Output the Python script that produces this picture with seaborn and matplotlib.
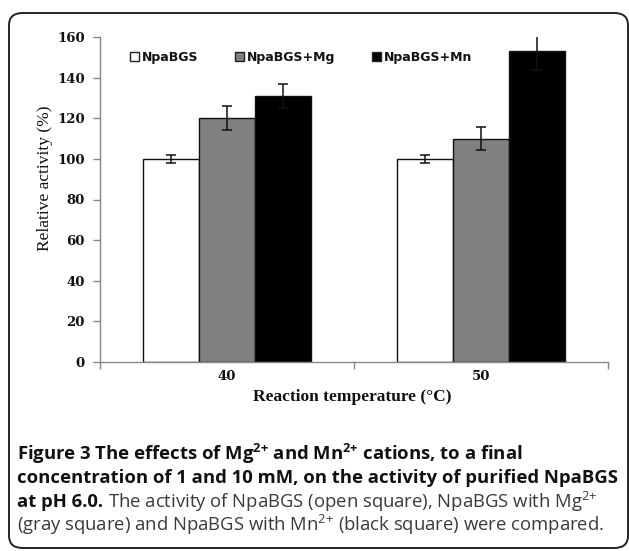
import matplotlib
matplotlib.use("Agg")
import matplotlib.pyplot as plt
import seaborn as sns
import pandas as pd
from matplotlib.patches import FancyBboxPatch
from matplotlib.ticker import FixedLocator, NullFormatter

# ---- data ----
temperatures = ["40", "50"]
groups = ["NpaBGS", "NpaBGS+Mg", "NpaBGS+Mn"]
act_npabgs = [100, 100]
act_mg = [120, 110]
act_mn = [131, 153]
err_npabgs = [2, 2]
err_mg = [6, 5.5]
err_mn = [6, 9]
colors = ["#ffffff", "#808080", "#000000"]

rows = []
for g, vals in zip(groups, [act_npabgs, act_mg, act_mn]):
    for t, v in zip(temperatures, vals):
        rows.append({"temp": t, "group": g, "activity": v})
df = pd.DataFrame(rows)
errs = {"NpaBGS": err_npabgs, "NpaBGS+Mg": err_mg, "NpaBGS+Mn": err_mn}

sns.set_style("white")
plt.rcParams["mathtext.fontset"] = "custom"
plt.rcParams["mathtext.rm"] = "Open Sans"
plt.rcParams["mathtext.bf"] = "Open Sans:bold"

W, H = 629, 551
fig = plt.figure(figsize=(W / 100, H / 100), dpi=100)

# outer rounded box
box = FancyBboxPatch((9 / W, 3 / H), (628 - 9) / W, (548 - 13) / H,
                     boxstyle="round,pad=0,rounding_size=0.022",
                     transform=fig.transFigure, facecolor="none",
                     edgecolor="#222222", linewidth=1.4, zorder=5)
fig.patches.append(box)

ax = fig.add_axes([100 / W, 1 - 362 / H, 508 / W, 325 / H])
sns.barplot(data=df, x="temp", y="activity", hue="group", order=temperatures,
            hue_order=groups, palette=colors, errorbar=None, width=0.665,
            edgecolor="#111111", linewidth=1.0, ax=ax, saturation=1)

# error bars at bar centers
for cont, g in zip(ax.containers, groups):
    xs = [p.get_x() + p.get_width() / 2 for p in cont.patches]
    ys = [p.get_height() for p in cont.patches]
    ax.errorbar(xs, ys, yerr=errs[g], fmt="none", ecolor="#111111",
                elinewidth=1.1, capsize=3.3, capthick=1.1, zorder=5)

ax.set_ylim(0, 160)
ax.set_xlim(-0.5, 1.5)
ax.set_yticks(range(0, 161, 20))
ax.set_yticklabels([str(v) for v in range(0, 161, 20)],
                   fontfamily="DejaVu Serif", fontweight="bold", fontsize=9.5,
                   color="#111111")
ax.set_xticks([0, 1])
ax.set_xticklabels(temperatures, fontfamily="DejaVu Serif",
                   fontweight="bold", fontsize=9.5, color="#111111")
ax.tick_params(axis="x", which="major", length=0, pad=6)
ax.xaxis.set_minor_locator(FixedLocator([-0.5, 0.5, 1.5]))
ax.xaxis.set_minor_formatter(NullFormatter())
ax.tick_params(axis="x", which="minor", length=5, color="#888888", width=1,
               bottom=True)
ax.tick_params(axis="y", length=5, color="#888888", width=1, pad=6, left=True)
for s in ["top", "right"]:
    ax.spines[s].set_visible(False)
for s in ["left", "bottom"]:
    ax.spines[s].set_color("#888888")
    ax.spines[s].set_linewidth(1.0)

ax.set_xlabel("Reaction temperature (\u00b0C)", fontfamily="Liberation Serif",
              fontweight="bold", fontsize=12.5, color="#111111")
ax.xaxis.set_label_coords((352 - 100) / 508, (362 - 389) / 325)
ax.set_ylabel("Relative activity (%)", fontfamily="Liberation Serif",
              fontsize=12.5, color="#111111")
ax.yaxis.set_label_coords((53 - 100) / 508, (362 - 178) / 325)

leg = ax.legend(loc="center left", bbox_to_anchor=((130 - 100) / 508, (362 - 57) / 325),
                ncol=3, frameon=False, borderpad=0, borderaxespad=0,
                handlelength=0.72, handleheight=0.72,
                handletextpad=0.25, columnspacing=2.9,
                prop={"family": "DejaVu Sans", "weight": "bold", "size": 9})
for t in leg.get_texts():
    t.set_color("#111111")
for h in leg.legend_handles:
    h.set_edgecolor("#222222")
    h.set_linewidth(1.0)

# caption
cap_x = 17 / W
fs = 13.3
lines_y = [454, 478, 502, 525]
bold_c = "#111111"
reg_c = "#3a3a3a"
fig.text(cap_x, 1 - lines_y[0] / H,
         r"Figure 3 The effects of Mg$^{\mathbf{2{+}}}$ and Mn$^{\mathbf{2{+}}}$ cations, to a final",
         fontfamily="Open Sans", fontweight="bold", fontsize=fs, va="center",
         color=bold_c)
fig.text(cap_x, 1 - lines_y[1] / H,
         "concentration of 1 and 10 mM, on the activity of purified NpaBGS",
         fontfamily="Open Sans", fontweight="bold", fontsize=fs, va="center",
         color=bold_c)
t1 = fig.text(cap_x, 1 - lines_y[2] / H, "at pH 6.0.",
              fontfamily="Open Sans", fontweight="bold", fontsize=fs,
              va="center", color=bold_c)
fig.canvas.draw()
r = fig.canvas.get_renderer()
bb = t1.get_window_extent(renderer=r)
fig.text(bb.x1 / W + 5 / W, 1 - lines_y[2] / H,
         r"The activity of NpaBGS (open square), NpaBGS with Mg$^{2{+}}$",
         fontfamily="Open Sans", fontsize=fs, va="center", color=reg_c)
fig.text(cap_x, 1 - lines_y[3] / H,
         r"(gray square) and NpaBGS with Mn$^{2{+}}$ (black square) were compared.",
         fontfamily="Open Sans", fontsize=fs, va="center", color=reg_c)

fig.savefig("out.png", dpi=100)
